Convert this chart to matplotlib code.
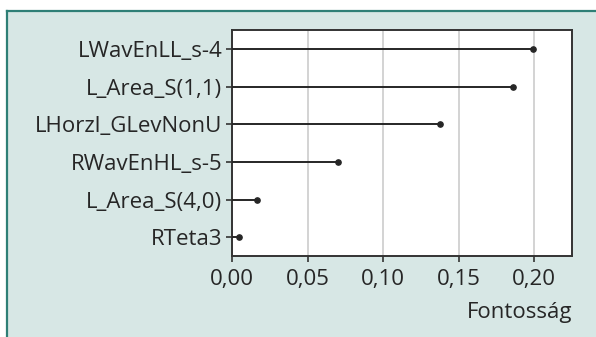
import matplotlib
matplotlib.use('Agg')
import matplotlib.pyplot as plt
from matplotlib.patches import Rectangle
from matplotlib.ticker import FuncFormatter

plt.rcParams['font.family'] = ['Open Sans', 'DejaVu Sans']

# változók fontossága
features = ['LWavEnLL_s-4', 'L_Area_S(1,1)', 'LHorzl_GLevNonU',
            'RWavEnHL_s-5', 'L_Area_S(4,0)', 'RTeta3']
importance = [0.199, 0.186, 0.1375, 0.070, 0.0167, 0.0046]
xticks = [0.00, 0.05, 0.10, 0.15, 0.20]

bg = '#d7e7e5'
teal = '#2e7f76'
ink = '#262626'

fig = plt.figure(figsize=(5.96, 3.37), dpi=100, facecolor='white')

# háttérpanel
x0, y0 = 7 / 596, 0
w, h = 1 - x0, 1 - 11 / 337
fig.add_artist(Rectangle((x0, y0), w, h, transform=fig.transFigure,
                         facecolor=bg, edgecolor='none', zorder=-10))
fig.add_artist(plt.Line2D([x0, 1], [h, h], color=teal, lw=1.6,
                          transform=fig.transFigure, zorder=-9))
fig.add_artist(plt.Line2D([x0, x0], [0, h], color=teal, lw=1.6,
                          transform=fig.transFigure, zorder=-9))

ax = fig.add_axes([232 / 596, 1 - 256 / 337, 340 / 596, 226 / 337])
ax.set_facecolor('white')

ypos = list(range(len(features)))
ax.hlines(ypos, 0, importance, color=ink, lw=1.4, zorder=3)
ax.plot(importance, ypos, 'o', color=ink, ms=3.8, zorder=4)

ax.set_xlim(0, 0.225)
ax.set_ylim(len(features) - 0.5, -0.5)
ax.set_yticks(ypos)
ax.set_yticklabels(features)
ax.set_xticks(xticks)
ax.xaxis.set_major_formatter(FuncFormatter(lambda v, p: f'{v:.2f}'.replace('.', ',')))

ax.grid(axis='x', color='#c8c8c8', lw=1.1, zorder=1)
ax.set_axisbelow(True)
for s in ax.spines.values():
    s.set_color('#333333')
    s.set_linewidth(1.4)
ax.tick_params(colors='#333333', labelcolor=ink, labelsize=16, length=4, width=1.2)
ax.tick_params(axis='x', pad=5)
ax.tick_params(axis='y', pad=3)

ax.set_xlabel('Fontosság', fontsize=16, color=ink, loc='right', labelpad=9)

fig.savefig('out.png', dpi=100, facecolor='white')
